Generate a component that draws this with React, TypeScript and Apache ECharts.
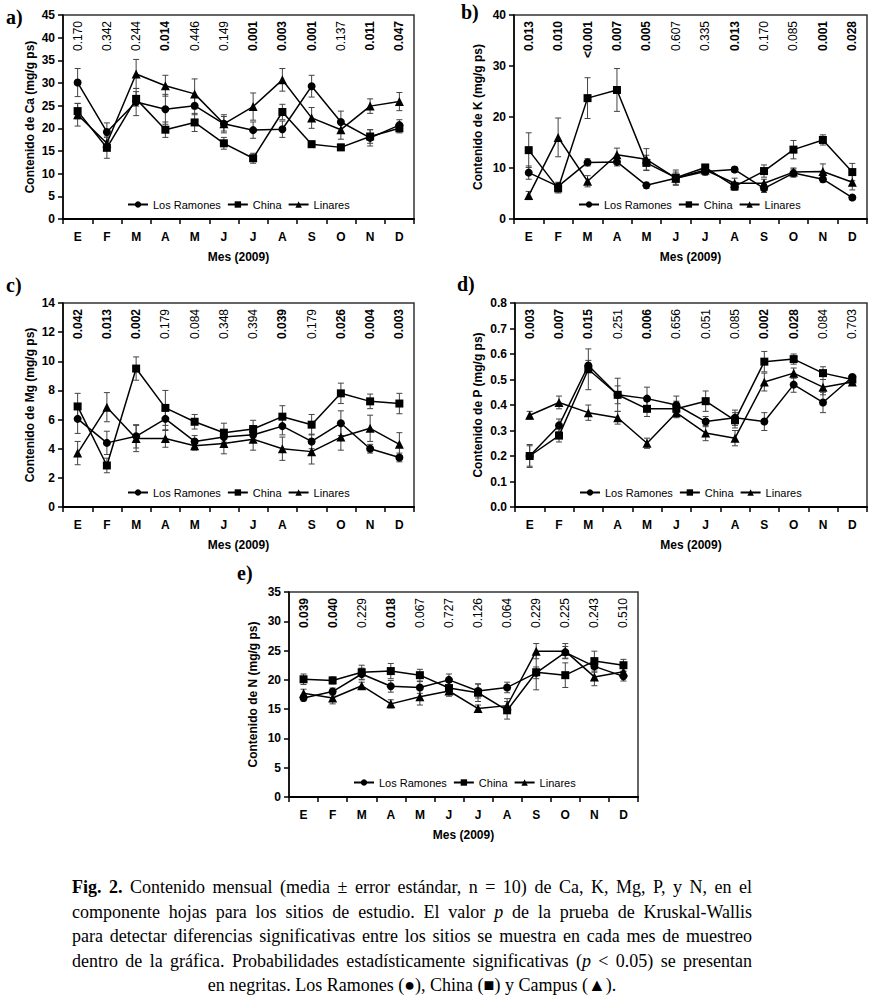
import React, { useEffect, useRef } from "react";
import * as echarts from "echarts";

const months = ["E", "F", "M", "A", "M", "J", "J", "A", "S", "O", "N", "D"];
const siteNames = ["Los Ramones", "China", "Linares"];
const siteSymbols = ["circle", "rect", "triangle"];
const siteSymbolSizes = [8, 8, 9];

// a) Ca
const caLR = [30.1, 19.2, 25.8, 24.2, 25.0, 21.0, 19.6, 19.8, 29.3, 21.4, 17.9, 20.7];
const caLRe = [3.1, 2.0, 3.0, 3.3, 2.0, 1.6, 1.8, 1.8, 2.4, 2.4, 1.8, 1.2];
const caCh = [23.8, 15.7, 26.5, 19.7, 21.3, 16.7, 13.4, 23.6, 16.5, 15.8, 18.2, 20.0];
const caChe = [1.7, 2.3, 1.6, 1.7, 2.0, 1.3, 1.1, 1.7, 0.7, 0.7, 1.5, 1.0];
const caLi = [23.0, 16.7, 32.0, 29.4, 27.6, 21.0, 24.8, 30.7, 22.3, 19.7, 24.9, 25.9];
const caLie = [2.5, 1.6, 3.2, 2.3, 3.3, 2.0, 3.0, 2.5, 2.3, 2.1, 1.6, 2.0];
const caP = ["0.170", "0.342", "0.244", "0.014", "0.446", "0.149", "0.001", "0.003", "0.001", "0.137", "0.011", "0.047"];

// b) K
const kLR = [9.1, 6.4, 11.1, 11.2, 6.6, 8.0, 9.3, 9.7, 6.0, 9.0, 7.8, 4.2];
const kLRe = [1.3, 0.8, 0.7, 0.8, 0.6, 0.8, 0.6, 0.5, 0.8, 0.8, 0.6, 0.4];
const kCh = [13.5, 6.0, 23.7, 25.3, 11.0, 8.1, 10.1, 6.4, 9.4, 13.6, 15.5, 9.2];
const kChe = [3.4, 0.9, 4.0, 4.2, 1.5, 1.5, 0.6, 0.8, 1.2, 1.8, 1.0, 1.7];
const kLi = [4.6, 16.0, 7.4, 12.6, 11.7, 8.0, 9.6, 7.0, 7.0, 9.2, 9.3, 7.2];
const kLie = [0.8, 3.8, 1.1, 1.3, 2.1, 1.2, 1.0, 1.0, 0.8, 0.8, 1.5, 1.5];
const kP = ["0.013", "0.010", "<0.001", "0.007", "0.005", "0.607", "0.335", "0.013", "0.170", "0.085", "0.001", "0.028"];

// c) Mg
const mgLR = [6.05, 4.4, 4.85, 6.05, 4.5, 4.8, 4.95, 5.55, 4.5, 5.75, 4.0, 3.4];
const mgLRe = [1.0, 0.8, 0.8, 0.8, 0.4, 0.5, 0.5, 0.6, 0.5, 0.85, 0.3, 0.3];
const mgCh = [6.9, 2.85, 9.5, 6.8, 5.85, 5.1, 5.35, 6.2, 5.65, 7.8, 7.25, 7.1];
const mgChe = [0.9, 0.5, 0.8, 1.2, 0.5, 0.65, 0.6, 0.75, 0.7, 0.7, 0.5, 0.7];
const mgLi = [3.7, 6.85, 4.7, 4.7, 4.2, 4.35, 4.65, 4.0, 3.8, 4.8, 5.4, 4.3];
const mgLie = [0.8, 1.0, 0.9, 0.6, 0.3, 0.7, 0.75, 0.8, 0.85, 0.9, 0.9, 0.8];
const mgP = ["0.042", "0.013", "0.002", "0.179", "0.084", "0.348", "0.394", "0.039", "0.179", "0.026", "0.004", "0.003"];

// d) P
const pLR = [0.2, 0.32, 0.555, 0.44, 0.425, 0.4, 0.335, 0.35, 0.335, 0.48, 0.41, 0.51];
const pLRe = [0.04, 0.025, 0.02, 0.065, 0.045, 0.035, 0.02, 0.03, 0.035, 0.03, 0.04, 0.01];
const pCh = [0.2, 0.28, 0.54, 0.44, 0.385, 0.385, 0.415, 0.34, 0.57, 0.58, 0.525, 0.5];
const pChe = [0.045, 0.025, 0.08, 0.035, 0.03, 0.03, 0.04, 0.03, 0.04, 0.02, 0.025, 0.01];
const pLi = [0.36, 0.41, 0.37, 0.35, 0.25, 0.37, 0.29, 0.27, 0.49, 0.525, 0.47, 0.49];
const pLie = [0.015, 0.025, 0.03, 0.025, 0.02, 0.02, 0.03, 0.03, 0.035, 0.02, 0.03, 0.01];
const pP = ["0.003", "0.007", "0.015", "0.251", "0.006", "0.656", "0.051", "0.085", "0.002", "0.028", "0.084", "0.703"];

// e) N
const nLR = [16.9, 18.0, 21.0, 18.9, 18.7, 20.0, 18.1, 18.7, 21.2, 24.7, 22.3, 20.6];
const nLRe = [0.5, 0.6, 1.0, 1.0, 1.0, 1.0, 1.2, 0.9, 1.0, 1.0, 1.0, 0.8];
const nCh = [20.1, 19.9, 21.3, 21.5, 20.8, 18.6, 17.8, 14.8, 21.3, 20.8, 23.2, 22.5];
const nChe = [0.9, 0.6, 1.2, 1.3, 1.0, 1.0, 1.5, 1.5, 3.0, 2.1, 1.7, 1.0];
const nLi = [17.7, 16.9, 19.0, 15.9, 17.1, 18.1, 15.1, 15.6, 24.9, 24.9, 20.5, 21.4];
const nLie = [0.7, 1.0, 0.6, 0.7, 1.4, 0.9, 0.6, 1.2, 1.3, 1.3, 1.5, 1.0];
const nP = ["0.039", "0.040", "0.229", "0.018", "0.067", "0.727", "0.126", "0.064", "0.229", "0.225", "0.243", "0.510"];

const panelLabels = ["a)", "b)", "c)", "d)", "e)"];
const yNames = [
  "Contenido de Ca (mg/g ps)",
  "Contenido de K (mg/g ps)",
  "Contenido de Mg (mg/g ps)",
  "Contenido de P (mg/g ps)",
  "Contenido de N (mg/g ps)",
];
const yMax = [45, 40, 14, 0.8, 35];
const yInterval = [5, 10, 2, 0.1, 5];

const panels = [
  { vals: [caLR, caCh, caLi], errs: [caLRe, caChe, caLie], p: caP },
  { vals: [kLR, kCh, kLi], errs: [kLRe, kChe, kLie], p: kP },
  { vals: [mgLR, mgCh, mgLi], errs: [mgLRe, mgChe, mgLie], p: mgP },
  { vals: [pLR, pCh, pLi], errs: [pLRe, pChe, pLie], p: pP },
  { vals: [nLR, nCh, nLi], errs: [nLRe, nChe, nLie], p: nP },
];

// layout
const grids = [
  { left: 63, top: 15, width: 351, height: 204 },
  { left: 514, top: 15, width: 353, height: 204 },
  { left: 63, top: 303, width: 351, height: 204 },
  { left: 515, top: 303, width: 352, height: 204 },
  { left: 289, top: 592, width: 349, height: 205 },
];
const yNameGaps = [27, 30, 27, 31, 30];
const labelPos = [
  [6, 17],
  [461, 12],
  [6, 285],
  [457, 284],
  [237, 573],
];

const SANS = 'Arial, "Liberation Sans", sans-serif';

function isBold(s: string) {
  return s.startsWith("<") || parseFloat(s) < 0.05;
}

export default function App() {
  const ref = useRef<HTMLDivElement>(null);

  useEffect(() => {
    if (!ref.current) return;
    const chart = echarts.init(ref.current, undefined, { renderer: "svg" });

    const xAxis: any[] = [];
    const yAxis: any[] = [];
    const series: any[] = [];
    const legend: any[] = [];
    const graphic: any[] = [];

    panels.forEach((pan, k) => {
      const g = grids[k];
      xAxis.push({
        gridIndex: k,
        type: "category",
        data: months,
        boundaryGap: true,
        axisLine: { show: true, lineStyle: { color: "#000", width: 2 } },
        axisTick: { show: true, interval: 0, length: 5, lineStyle: { color: "#000", width: 1.5 } },
        axisLabel: { interval: 0, margin: 12, fontWeight: "bold", fontSize: 12, color: "#000", fontFamily: SANS },
        splitLine: { show: false },
        name: "Mes (2009)",
        nameLocation: "middle",
        nameGap: 32,
        nameTextStyle: { fontWeight: "bold", fontSize: 12, color: "#000", fontFamily: SANS },
      });
      yAxis.push({
        gridIndex: k,
        type: "value",
        min: 0,
        max: yMax[k],
        interval: yInterval[k],
        axisLine: { show: true, lineStyle: { color: "#000", width: 1.5 } },
        axisTick: { show: true, length: 5, lineStyle: { color: "#000", width: 1.5 } },
        splitLine: { show: false },
        axisLabel: {
          margin: 8,
          fontWeight: "bold",
          fontSize: 12,
          color: "#000",
          fontFamily: SANS,
          formatter: k === 3 ? (v: number) => v.toFixed(1) : undefined,
        },
        name: yNames[k],
        nameLocation: "middle",
        nameGap: yNameGaps[k],
        nameTextStyle: { fontWeight: "bold", fontSize: 12, color: "#000", fontFamily: SANS },
      });

      // error bars
      pan.vals.forEach((vals, s) => {
        const errs = pan.errs[s];
        series.push({
          type: "custom",
          xAxisIndex: k,
          yAxisIndex: k,
          silent: true,
          z: 2,
          data: vals.map((v, i) => [i, v - errs[i], v + errs[i]]),
          renderItem: (params: any, api: any) => {
            const lo = api.coord([api.value(0), api.value(1)]);
            const hi = api.coord([api.value(0), api.value(2)]);
            const c = { stroke: "#444", lineWidth: 1 };
            return {
              type: "group",
              children: [
                { type: "line", shape: { x1: lo[0], y1: lo[1], x2: hi[0], y2: hi[1] }, style: c },
                { type: "line", shape: { x1: hi[0] - 3, y1: hi[1], x2: hi[0] + 3, y2: hi[1] }, style: c },
                { type: "line", shape: { x1: lo[0] - 3, y1: lo[1], x2: lo[0] + 3, y2: lo[1] }, style: c },
              ],
            };
          },
        });
      });

      // lines
      pan.vals.forEach((vals, s) => {
        series.push({
          type: "line",
          name: siteNames[s],
          xAxisIndex: k,
          yAxisIndex: k,
          data: vals,
          symbol: siteSymbols[s],
          symbolSize: siteSymbolSizes[s],
          showAllSymbol: true,
          lineStyle: { color: "#000", width: 1.5 },
          itemStyle: { color: "#000" },
          z: 3,
        });
      });

      // p-values
      const pv = pan.p;
      series.push({
        type: "custom",
        xAxisIndex: k,
        yAxisIndex: k,
        silent: true,
        z: 4,
        data: pv.map((_, i) => [i, 0]),
        renderItem: (params: any, api: any) => {
          const pt = api.coord([api.value(0), 0]);
          const top = params.coordSys.y;
          const s = pv[params.dataIndex];
          return {
            type: "text",
            x: pt[0],
            y: top + 6,
            rotation: Math.PI / 2,
            style: {
              text: s,
              align: "right",
              verticalAlign: "middle",
              fontSize: 12,
              fontWeight: isBold(s) ? "bold" : "normal",
              fontFamily: SANS,
              fill: "#000",
            },
          };
        },
      });

      legend.push({
        left: g.left + 64,
        top: g.top + g.height - 20,
        orient: "horizontal",
        itemWidth: 20,
        itemHeight: 8,
        itemGap: 6,
        padding: 0,
        selectedMode: false,
        data: siteNames,
        textStyle: { fontSize: 11, color: "#000", fontFamily: SANS },
      });

      graphic.push({
        type: "text",
        x: labelPos[k][0],
        y: labelPos[k][1],
        style: {
          text: panelLabels[k],
          font: 'bold 20px "Liberation Serif", "Times New Roman", serif',
          fill: "#000",
          verticalAlign: "middle",
        },
      });
    });

    chart.setOption({
      animation: false,
      backgroundColor: "#fff",
      grid: grids.map((g) => ({
        ...g,
        show: true,
        borderColor: "#333",
        borderWidth: 1.5,
        backgroundColor: "transparent",
        containLabel: false,
      })),
      xAxis,
      yAxis,
      legend,
      series,
      graphic,
    });

    return () => chart.dispose();
  }, []);

  const lineStyle: React.CSSProperties = {
    height: 24.5,
    lineHeight: "24.5px",
    textAlign: "justify",
    textAlignLast: "justify" as any,
    whiteSpace: "normal",
  };

  return (
    <div style={{ position: "absolute", left: 0, top: 0, width: 870, height: 1000, background: "#fff" }}>
      <div ref={ref} style={{ position: "absolute", left: 0, top: 0, width: 870, height: 1000 }} />
      <div
        style={{
          position: "absolute",
          left: 72,
          top: 875,
          width: 680,
          fontFamily: '"Liberation Serif", "Times New Roman", serif',
          fontSize: 18,
          color: "#000",
        }}
      >
        <div style={lineStyle}>
          <b>Fig. 2.</b> Contenido mensual (media ± error estándar, n = 10) de Ca, K, Mg, P, y N, en el
        </div>
        <div style={lineStyle}>
          componente hojas para los sitios de estudio. El valor <i>p</i> de la prueba de Kruskal-Wallis
        </div>
        <div style={lineStyle}>
          para detectar diferencias significativas entre los sitios se muestra en cada mes de muestreo
        </div>
        <div style={lineStyle}>
          dentro de la gráfica. Probabilidades estadísticamente significativas (<i>p</i> &lt; 0.05) se presentan
        </div>
        <div style={{ ...lineStyle, textAlign: "center", textAlignLast: "center" as any }}>
          en negritas. Los Ramones (●), China (■) y Campus (▲).
        </div>
      </div>
    </div>
  );
}
